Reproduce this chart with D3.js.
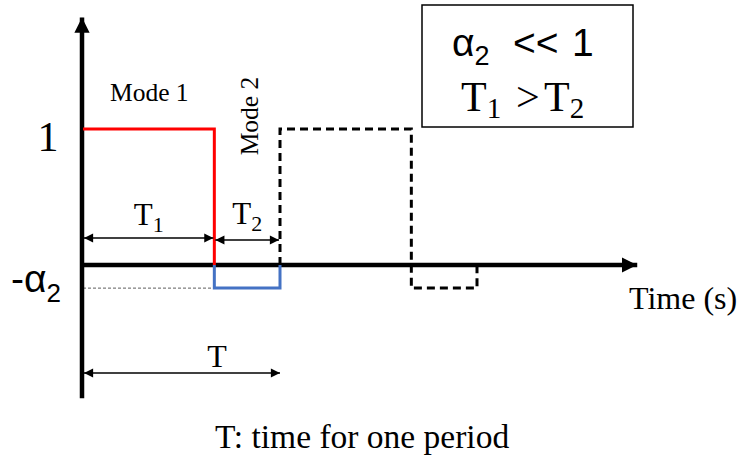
<!DOCTYPE html>
<html>
<head>
<meta charset="utf-8">
<script src="https://cdn.jsdelivr.net/npm/d3@7"></script>
<style>
  html, body { margin: 0; padding: 0; background: #fff; }
  svg { display: block; }
  .serif { font-family: "Liberation Serif", "Times New Roman", serif; }
  .sans { font-family: "Liberation Sans", Arial, sans-serif; }
</style>
</head>
<body>
<svg id="chart" width="742" height="461"></svg>
<script>
// Switching waveform: time in units where T1 = 2 and T2 = 1 (T = 3)
const T1 = 2;
const T2 = 1;
const alpha2 = 0.17;

// Mode 1 (high, red) and Mode 2 (low, blue) of the first period
const mode1Time = [0, 0, T1, T1];
const mode1Level = [1, 1, 1, 0];
const mode2Time = [T1, T1, T1 + T2, T1 + T2];
const mode2Level = [0, -alpha2, -alpha2, 0];

// Next period, drawn dashed
const nextTime = [3, 3, 5, 5, 5, 6, 6];
const nextLevel = [0, 1, 1, 0, -alpha2, -alpha2, 0];

// Axis tick labels
const yTickValues = [1, -alpha2];
const yTickLabels = ["1", "-α"];

const svg = d3.select("#chart");

const x = d3.scaleLinear().domain([0, 3]).range([83, 280]);
const y = d3.scaleLinear().domain([0, 1]).range([265, 129]);

// Arrow markers
const defs = svg.append("defs");
defs.append("marker")
  .attr("id", "axisHead").attr("viewBox", "0 0 10 10")
  .attr("refX", 10).attr("refY", 5)
  .attr("markerWidth", 3.4).attr("markerHeight", 3.4)
  .attr("markerUnits", "strokeWidth").attr("orient", "auto")
  .append("path").attr("d", "M0,0 L10,5 L0,10 Z").attr("fill", "#000");
defs.append("marker")
  .attr("id", "dimHead").attr("viewBox", "0 0 10 10")
  .attr("refX", 10).attr("refY", 5)
  .attr("markerWidth", 9).attr("markerHeight", 7)
  .attr("markerUnits", "strokeWidth").attr("orient", "auto-start-reverse")
  .append("path").attr("d", "M0,0 L10,5 L0,10 Z").attr("fill", "#000");

// Thin dashed guide at -alpha2
svg.append("line")
  .attr("x1", x(0)).attr("x2", x(T1))
  .attr("y1", y(-alpha2)).attr("y2", y(-alpha2))
  .attr("stroke", "#333").attr("stroke-width", 0.8)
  .attr("stroke-dasharray", "3,2");

// Axes
svg.append("line")
  .attr("x1", x(0) - 1).attr("y1", y(-0.98))
  .attr("x2", x(0) - 1).attr("y2", y(1.82))
  .attr("stroke", "#000").attr("stroke-width", 4.5)
  .attr("marker-end", "url(#axisHead)");
svg.append("line")
  .attr("x1", x(0) - 3).attr("y1", y(0))
  .attr("x2", x(8.44)).attr("y2", y(0))
  .attr("stroke", "#000").attr("stroke-width", 4.5)
  .attr("marker-end", "url(#axisHead)");

const line = d3.line().x(d => x(d[0])).y(d => y(d[1])).curve(d3.curveLinear);

// Mode 1
svg.append("path")
  .datum(d3.zip(mode1Time, mode1Level))
  .attr("d", line)
  .attr("fill", "none").attr("stroke", "#ff0000").attr("stroke-width", 3);

// Mode 2
svg.append("path")
  .datum(d3.zip(mode2Time, mode2Level))
  .attr("d", line)
  .attr("fill", "none").attr("stroke", "#4472c4").attr("stroke-width", 3);

// Following period
svg.append("path")
  .datum(d3.zip(nextTime, nextLevel))
  .attr("d", line)
  .attr("fill", "none").attr("stroke", "#000").attr("stroke-width", 3)
  .attr("stroke-dasharray", "8,5");

// Y tick labels
svg.append("text").attr("class", "serif")
  .attr("x", 48).attr("y", y(yTickValues[0]) + 22)
  .attr("text-anchor", "middle").attr("font-size", 42)
  .text(yTickLabels[0]);
const aLab = svg.append("text").attr("class", "sans")
  .attr("x", 11).attr("y", y(yTickValues[1]) + 4)
  .attr("font-size", 39);
aLab.append("tspan").text(yTickLabels[1]);
aLab.append("tspan").attr("dy", 10).attr("font-size", 26).text("2");

// Mode labels
svg.append("text").attr("class", "serif")
  .attr("x", 110).attr("y", 101).attr("font-size", 25.5)
  .text("Mode 1");
svg.append("text").attr("class", "serif")
  .attr("transform", `translate(258,116) rotate(-90)`)
  .attr("text-anchor", "middle").attr("font-size", 25.5)
  .text("Mode 2");

// Dimension arrows
function dim(t0, t1, yy, label, sub, ly) {
  svg.append("line")
    .attr("x1", x(t0) + 1).attr("x2", x(t1) - 1)
    .attr("y1", yy).attr("y2", yy)
    .attr("stroke", "#000").attr("stroke-width", 1.3)
    .attr("marker-start", "url(#dimHead)")
    .attr("marker-end", "url(#dimHead)");
  const t = svg.append("text").attr("class", "serif")
    .attr("x", (x(t0) + x(t1)) / 2).attr("y", ly)
    .attr("text-anchor", "middle").attr("font-size", 31);
  t.append("tspan").text(label);
  if (sub) t.append("tspan").attr("dy", 7).attr("font-size", 22).text(sub);
}
dim(0, T1, 238, "T", "1", 225);
dim(T1, T1 + T2, 240, "T", "2", 224);

// Period arrow
svg.append("line")
  .attr("x1", x(0) + 1).attr("x2", x(T1 + T2))
  .attr("y1", 373).attr("y2", 373)
  .attr("stroke", "#000").attr("stroke-width", 1.3)
  .attr("marker-start", "url(#dimHead)")
  .attr("marker-end", "url(#dimHead)");
svg.append("text").attr("class", "serif")
  .attr("x", 217).attr("y", 367)
  .attr("text-anchor", "middle").attr("font-size", 32)
  .text("T");

// Conditions box
svg.append("rect")
  .attr("x", 422).attr("y", 5).attr("width", 211).attr("height", 122)
  .attr("fill", "none").attr("stroke", "#000").attr("stroke-width", 1.5);
const c1 = svg.append("text").attr("class", "sans")
  .attr("y", 56).attr("font-size", 39);
c1.append("tspan").attr("x", 452).text("α");
c1.append("tspan").attr("dy", 9).attr("font-size", 27).text("2");
c1.append("tspan").attr("x", 513).attr("dy", -9).text("<<");
c1.append("tspan").attr("x", 572).text("1");
const c2 = svg.append("text").attr("class", "serif")
  .attr("y", 111).attr("font-size", 42);
c2.append("tspan").attr("x", 461).text("T");
c2.append("tspan").attr("dy", 7).attr("font-size", 29).text("1");
c2.append("tspan").attr("x", 516).attr("dy", -7).text(">");
c2.append("tspan").attr("x", 544).text("T");
c2.append("tspan").attr("dy", 7).attr("font-size", 29).text("2");

// Axis title and caption
svg.append("text").attr("class", "serif")
  .attr("x", 629).attr("y", 309).attr("font-size", 32)
  .text("Time (s)");
svg.append("text").attr("class", "serif")
  .attr("x", 215).attr("y", 448).attr("font-size", 33.5)
  .text("T: time for one period");
</script>
</body>
</html>
